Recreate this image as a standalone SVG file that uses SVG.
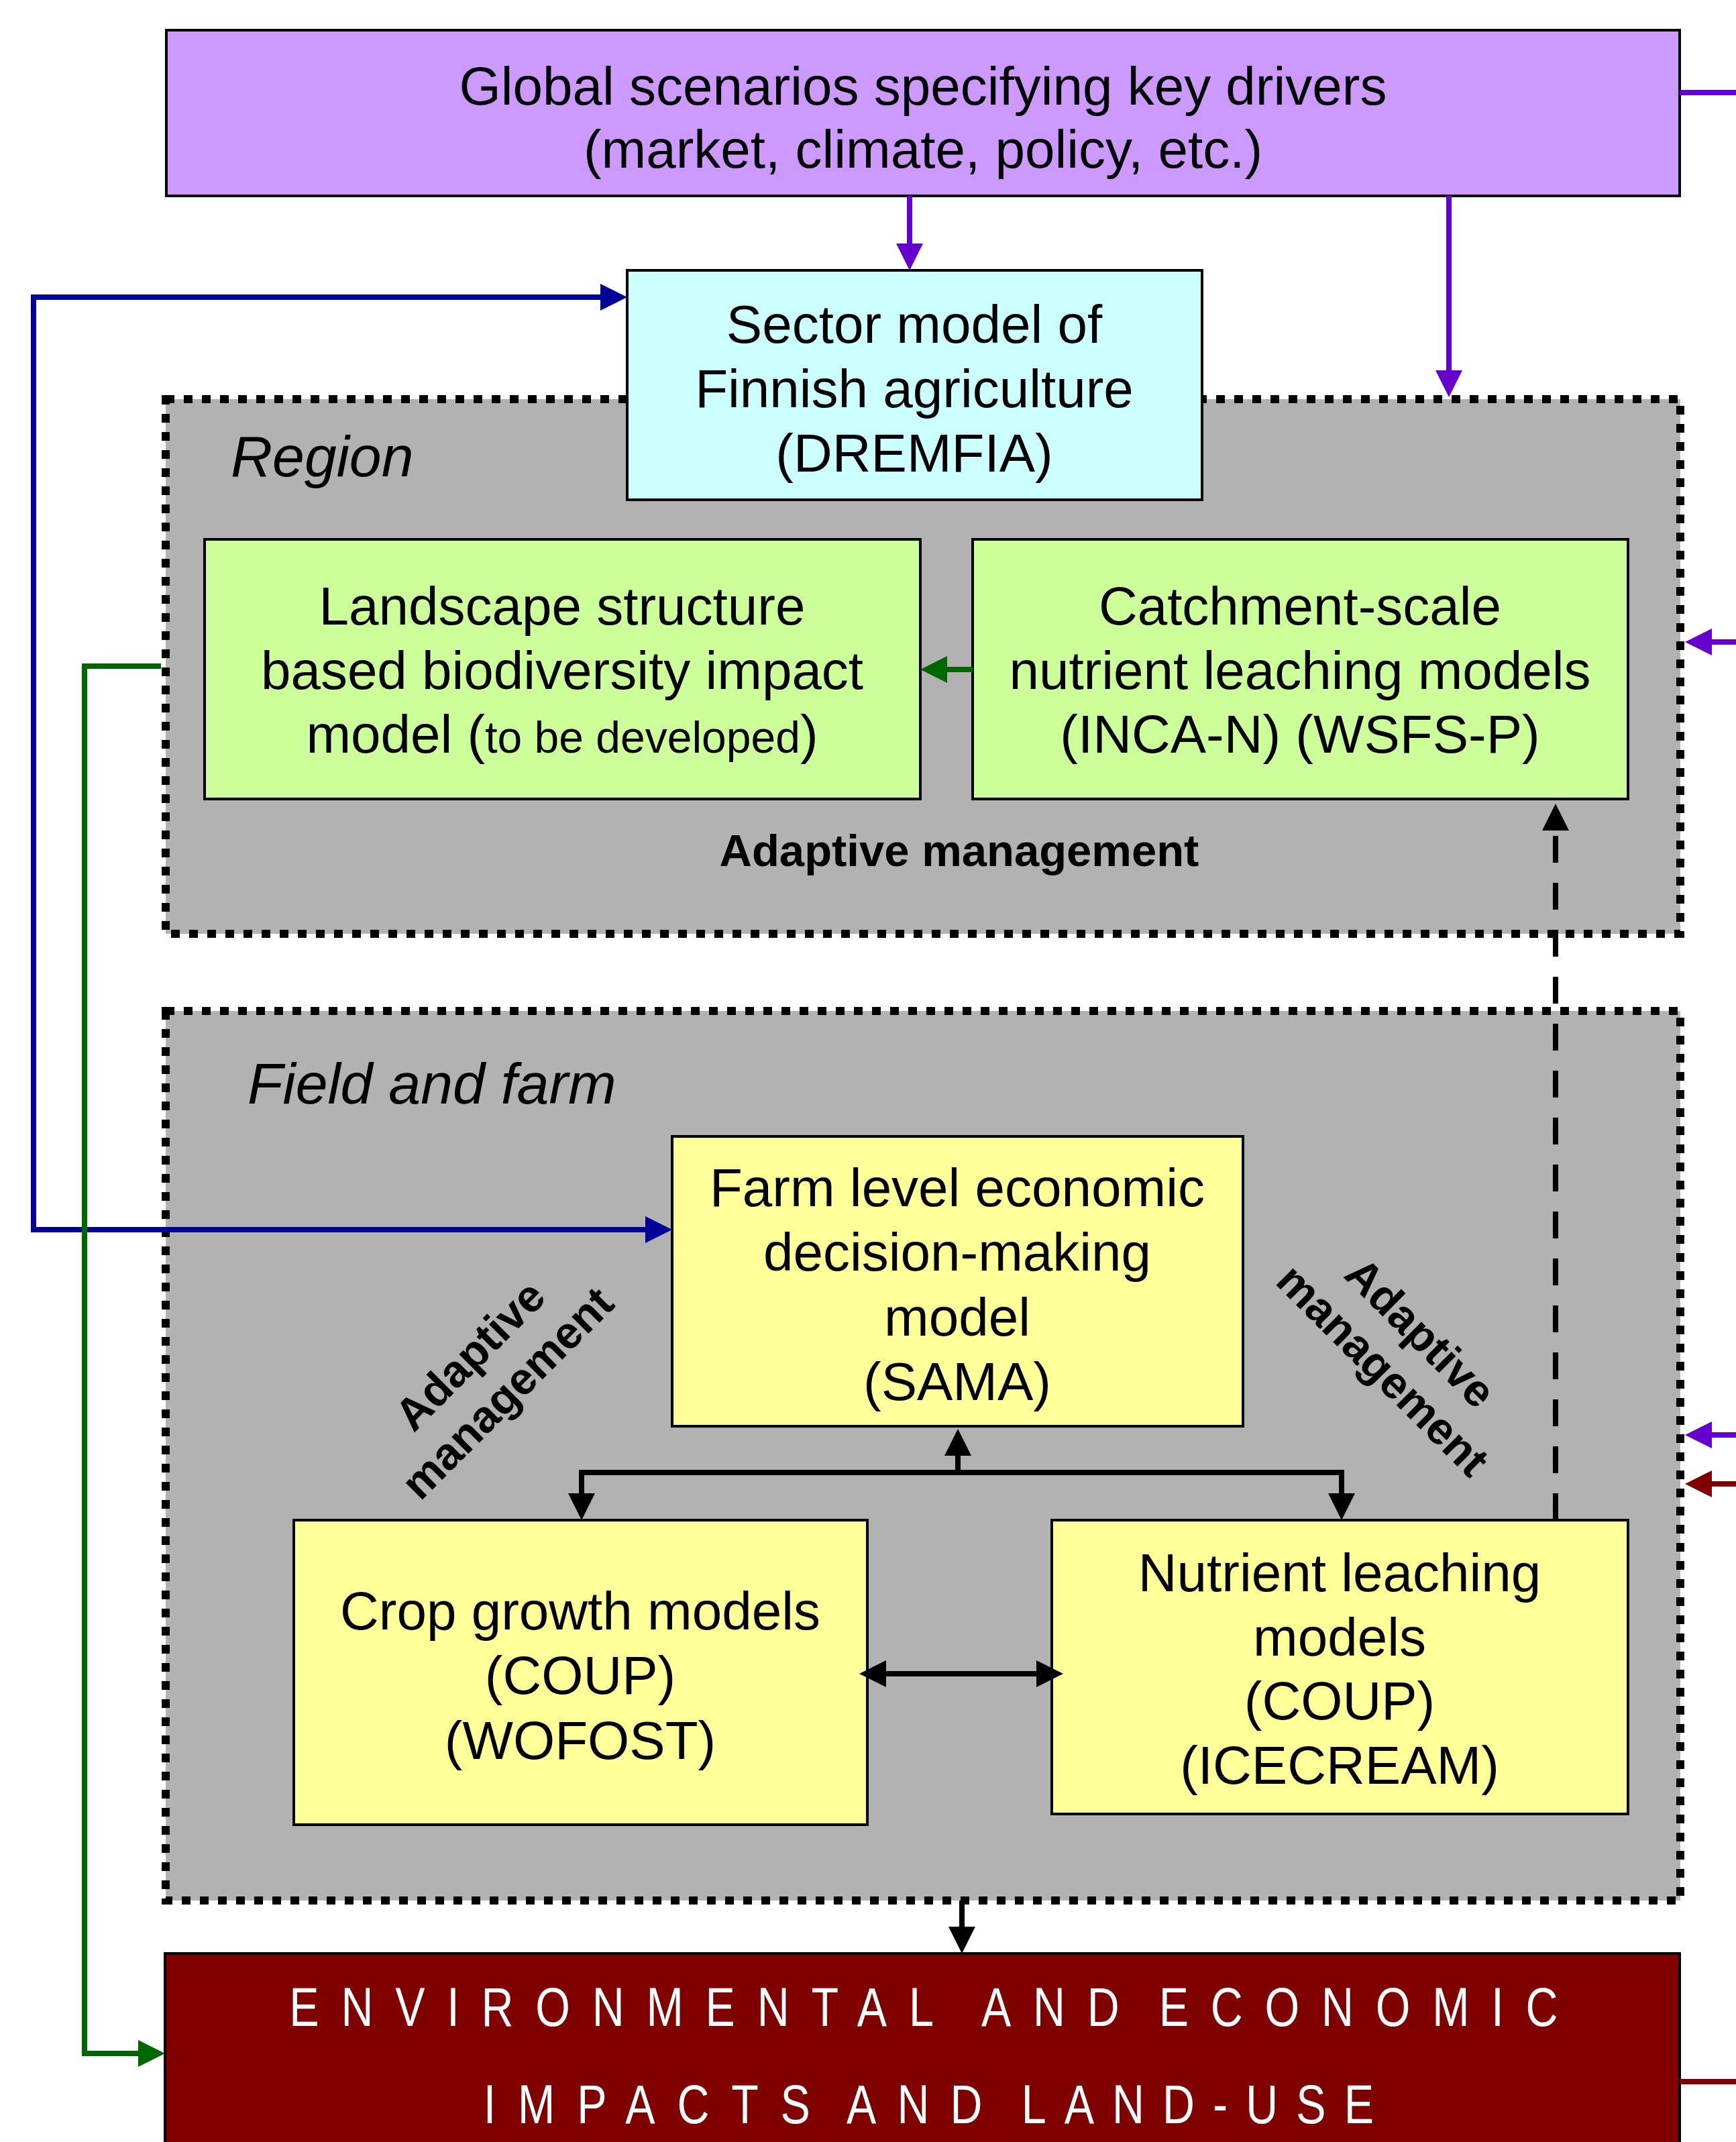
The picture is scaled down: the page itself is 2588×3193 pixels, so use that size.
<svg xmlns="http://www.w3.org/2000/svg" width="2588" height="3193" viewBox="0 0 2588 3193">
<style>
text{font-family:"Liberation Sans",Arial,Helvetica,sans-serif;fill:#000}
.t{font-size:80px;text-anchor:middle}
.lbl{font-size:86px;font-style:italic}
.am{font-size:67px;font-weight:bold;text-anchor:middle}
.box{stroke:#000;stroke-width:4}
.zone{fill:#b2b2b2;stroke:#000;stroke-width:12;stroke-dasharray:13 14}
.env{font-size:81px;fill:#fff}
.c{fill:none;stroke-width:8}
</style>
<defs>
<marker id="aK" markerUnits="userSpaceOnUse" markerWidth="40" markerHeight="40" refX="0" refY="20" orient="auto-start-reverse" overflow="visible"><path d="M0,0 L40,20 L0,40 z" fill="#000"/></marker>
<marker id="aP" markerUnits="userSpaceOnUse" markerWidth="40" markerHeight="40" refX="0" refY="20" orient="auto-start-reverse" overflow="visible"><path d="M0,0 L40,20 L0,40 z" fill="#6600cc"/></marker>
<marker id="aR" markerUnits="userSpaceOnUse" markerWidth="40" markerHeight="40" refX="0" refY="20" orient="auto-start-reverse" overflow="visible"><path d="M0,0 L40,20 L0,40 z" fill="#800000"/></marker>
<marker id="aB" markerUnits="userSpaceOnUse" markerWidth="40" markerHeight="40" refX="0" refY="20" orient="auto-start-reverse" overflow="visible"><path d="M0,0 L40,20 L0,40 z" fill="#000099"/></marker>
<marker id="aG" markerUnits="userSpaceOnUse" markerWidth="40" markerHeight="40" refX="0" refY="20" orient="auto-start-reverse" overflow="visible"><path d="M0,0 L40,20 L0,40 z" fill="#006600"/></marker>
</defs>
<rect width="2588" height="3193" fill="#fff"/>

<g id="region">
<rect class="zone" x="247" y="595" width="2258" height="797"/>
<text class="lbl" x="344" y="710">Region</text>
<text class="am" x="1430" y="1291">Adaptive management</text>
</g>

<g id="field">
<rect class="zone" x="247" y="1507" width="2258" height="1326"/>
<text class="lbl" x="369" y="1645">Field and farm</text>
<g transform="translate(728,2048) rotate(-45)">
<text class="am" x="0" y="-16">Adaptive</text>
<text class="am" x="0" y="63">management</text>
</g>
<g transform="translate(2090,2014) rotate(45)">
<text class="am" x="0" y="-16">Adaptive</text>
<text class="am" x="0" y="63">management</text>
</g>
</g>

<g id="global">
<rect class="box" x="248" y="45" width="2256" height="247" fill="#cc99ff" stroke-width="5"/>
<text class="t" x="1376" y="156">Global scenarios specifying key drivers</text>
<text class="t" x="1376" y="250">(market, climate, policy, etc.)</text>
</g>

<g id="sector">
<rect class="box" x="935" y="403" width="857" height="342" fill="#ccffff"/>
<text class="t" x="1363" y="511">Sector model of</text>
<text class="t" x="1363" y="607">Finnish agriculture</text>
<text class="t" x="1363" y="703">(DREMFIA)</text>
</g>

<g id="landscape">
<rect class="box" x="305" y="804" width="1067" height="387" fill="#ccff99"/>
<text class="t" x="838" y="931">Landscape structure</text>
<text class="t" x="838" y="1027">based biodiversity impact</text>
<text class="t" x="838" y="1122">model (<tspan font-size="66">to be developed</tspan>)</text>
</g>

<g id="catchment">
<rect class="box" x="1450" y="804" width="977" height="387" fill="#ccff99"/>
<text class="t" x="1938" y="931">Catchment-scale</text>
<text class="t" x="1938" y="1027">nutrient leaching models</text>
<text class="t" x="1938" y="1122">(INCA-N) (WSFS-P)</text>
</g>

<g id="farm">
<rect class="box" x="1002" y="1694" width="851" height="432" fill="#ffff99"/>
<text class="t" x="1427" y="1798">Farm level economic</text>
<text class="t" x="1427" y="1894">decision-making</text>
<text class="t" x="1427" y="1991">model</text>
<text class="t" x="1427" y="2087">(SAMA)</text>
</g>

<g id="crop">
<rect class="box" x="438" y="2266" width="855" height="454" fill="#ffff99"/>
<text class="t" x="865" y="2429">Crop growth models</text>
<text class="t" x="865" y="2525">(COUP)</text>
<text class="t" x="865" y="2622">(WOFOST)</text>
</g>

<g id="nutrient">
<rect class="box" x="1568" y="2266" width="859" height="438" fill="#ffff99"/>
<text class="t" x="1997" y="2372">Nutrient leaching</text>
<text class="t" x="1997" y="2468">models</text>
<text class="t" x="1997" y="2563">(COUP)</text>
<text class="t" x="1997" y="2659">(ICECREAM)</text>
</g>

<g id="impacts">
<rect class="box" x="246" y="2912" width="2258" height="320" fill="#800000"/>
<g transform="scale(0.82,1)">
<text class="env" y="3020" letter-spacing="40"><tspan x="526">ENVIRONMENTAL</tspan><tspan x="1784">AND</tspan><tspan x="2107">ECONOMIC</tspan></text>
<text class="env" y="3165"><tspan x="879" letter-spacing="40">IMPACTS</tspan><tspan x="1539" letter-spacing="38">AND</tspan><tspan x="1857" letter-spacing="33">LAND-USE</tspan></text>
</g>
</g>

<g id="connectors">
<path class="c" stroke="#6600cc" d="M2504,138 H2588"/>
<path class="c" stroke="#6600cc" d="M2588,957 H2552" marker-end="url(#aP)"/>
<path class="c" stroke="#6600cc" d="M2588,2139 H2552" marker-end="url(#aP)"/>
<path class="c" stroke="#800000" d="M2588,2212 H2552" marker-end="url(#aR)"/>
<path class="c" stroke="#800000" d="M2504,3103 H2588"/>
<path class="c" stroke="#6600cc" d="M1356,292 V363" marker-end="url(#aP)"/>
<path class="c" stroke="#6600cc" d="M2160,292 V552" marker-end="url(#aP)"/>
<path class="c" stroke="#000099" d="M962,1833 H50 V443 H895" marker-start="url(#aB)" marker-end="url(#aB)"/>
<path class="c" stroke="#006600" d="M240,993 H126 V3061 H206" marker-end="url(#aG)"/>
<path class="c" stroke="#006600" d="M1450,998 H1412" marker-end="url(#aG)"/>
<path class="c" stroke="#000" stroke-dasharray="40 30" d="M2319,2266 V1238" marker-end="url(#aK)"/>
<path class="c" stroke="#000" d="M867,2226 V2195 H2000 V2226" marker-start="url(#aK)" marker-end="url(#aK)"/>
<path class="c" stroke="#000" d="M1428,2195 V2170" marker-end="url(#aK)"/>
<path class="c" stroke="#000" d="M1321,2495 H1545" marker-start="url(#aK)" marker-end="url(#aK)"/>
<path class="c" stroke="#000" d="M1434,2833 V2872" marker-end="url(#aK)"/>
</g>
</svg>
